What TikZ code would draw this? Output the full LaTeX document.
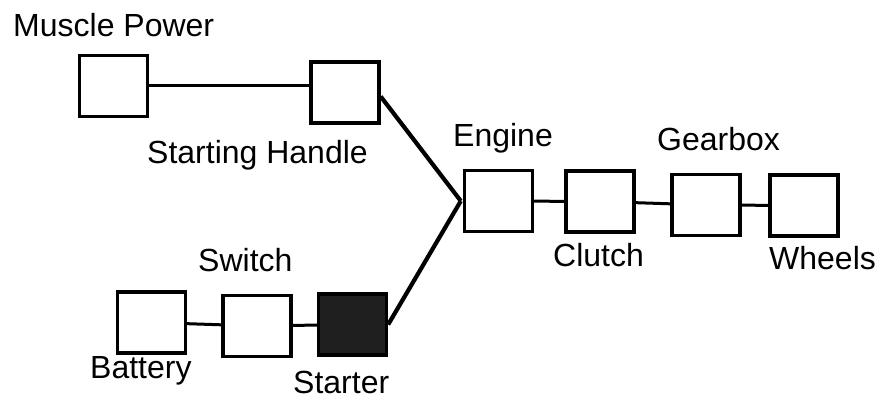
\documentclass[tikz,border=0pt]{standalone}
\usepackage{fontspec}
\setmainfont{Liberation Sans}
\usetikzlibrary{positioning}

\begin{document}
\begin{tikzpicture}[x=1pt, y=-1pt,
  font=\fontsize{32}{38}\selectfont,
  unit/.style={draw, line width=3.4pt, minimum width=68pt, minimum height=61pt, inner sep=0pt},
  lbl/.style={anchor=base west, inner sep=0pt},
  link/.style={line width=3pt},
  feed/.style={line width=4.2pt},
]
\useasboundingbox (0,0) rectangle (884,403);

% power sources
\node[unit] (muscle)  at (113.5,86)  {};
\node[unit] (handle)  at (345,92.5)  {};
\node[unit] (battery) at (151.5,322.5) {};
\node[unit] (switch)  at (257,326)   {};
\node[unit, fill=black!88] (starter) at (352.5,324.5) {};

% drive line
\node[unit] (engine)  at (498.5,201) {};
\node[unit] (clutch)  at (600,201.5) {};
\node[unit] (gearbox) at (706,205)   {};
\node[unit] (wheels)  at (804,205.5) {};

% labels
\node[lbl] (lmuscle)  at (13,37)   {Muscle Power};
\node[lbl] (lhandle)  at (147,164) {Starting Handle};
\node[lbl] (lengine)  at (453,147) {Engine};
\node[lbl] (lgearbox) at (657,151) {Gearbox};
\node[lbl] (lclutch)  at (553,267) {Clutch};
\node[lbl] (lwheels)  at (769,270) {Wheels};
\node[lbl] (lswitch)  at (198,272) {Switch};
\node[lbl] (lbattery) at (90,378)  {Battery};
\node[lbl] (lstarter) at (293,393) {Starter};

\draw[link] (muscle.east) -- (muscle.east -| handle.west);
\draw[link] (battery) -- (switch);
\draw[link] (switch) -- (starter);
\draw[link] (engine) -- (clutch);
\draw[link] (clutch) -- (gearbox);
\draw[link] (gearbox) -- (wheels);
\draw[feed] ([yshift=-4pt]handle.east) -- ([xshift=-2pt]engine.west);
\draw[feed] (starter.east) -- ([xshift=-2pt]engine.west);
\end{tikzpicture}
\end{document}
